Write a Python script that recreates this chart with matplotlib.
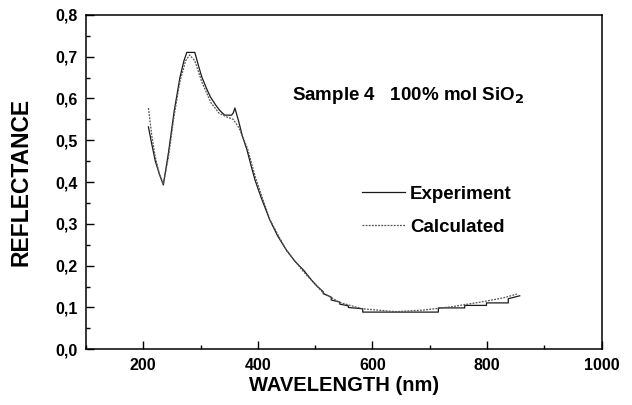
import matplotlib
matplotlib.use("Agg")
import matplotlib.pyplot as plt
from matplotlib.ticker import MultipleLocator

plt.rcParams['font.family'] = ['Liberation Sans', 'DejaVu Sans']

# Experiment (solid, digitised with steps in the tail)
exp_nm = [209, 215, 221, 228, 235, 244, 254, 264, 271, 276, 290, 296, 302, 310, 317,
          326, 333, 342, 354, 357, 360, 363, 366, 373, 381, 388, 395, 406, 421, 435,
          450, 465, 480, 494, 504, 514, 514, 528, 528, 543, 543, 558, 558, 583, 583,
          715, 715, 761, 761, 799, 799, 837, 837, 857]
exp_r = [0.532, 0.49, 0.45, 0.42, 0.393, 0.47, 0.57, 0.65, 0.69, 0.71, 0.71, 0.68, 0.652,
         0.625, 0.604, 0.585, 0.572, 0.56, 0.56, 0.565, 0.577, 0.562, 0.548, 0.51, 0.477,
         0.44, 0.405, 0.362, 0.309, 0.27, 0.237, 0.21, 0.189, 0.165, 0.15, 0.138, 0.133,
         0.125, 0.118, 0.113, 0.108, 0.104, 0.100, 0.097, 0.089, 0.089, 0.099, 0.099,
         0.105, 0.105, 0.111, 0.111, 0.121, 0.128]

# Calculated (dotted)
calc_nm = [209, 215, 221, 228, 235, 244, 254, 264, 274, 281, 290, 302, 318, 332, 345,
           357, 367, 382, 396, 421, 450, 480, 514, 543, 582, 641, 690, 739, 789, 828, 852]
calc_r = [0.577, 0.51, 0.46, 0.42, 0.395, 0.46, 0.56, 0.64, 0.69, 0.704, 0.69, 0.64,
          0.59, 0.565, 0.556, 0.55, 0.53, 0.48, 0.41, 0.31, 0.236, 0.185, 0.135, 0.112,
          0.097, 0.09, 0.094, 0.102, 0.113, 0.123, 0.132]

x_ticks = [200, 400, 600, 800, 1000]
y_ticks = [0.0, 0.1, 0.2, 0.3, 0.4, 0.5, 0.6, 0.7, 0.8]
y_labels = ['0,0', '0,1', '0,2', '0,3', '0,4', '0,5', '0,6', '0,7', '0,8']

fig = plt.figure(figsize=(6.32, 4.05), dpi=100)
ax = fig.add_axes([0.136, 0.1375, 0.816, 0.826])

ax.plot(exp_nm, exp_r, color='#1a1a1a', lw=0.9, label='Experiment')
ax.plot(calc_nm, calc_r, color='#555555', lw=0.9, ls=(0, (1.5, 1)), label='Calculated')

ax.set_xlim(100, 1000)
ax.set_ylim(0, 0.8)
ax.set_xticks(x_ticks)
ax.set_yticks(y_ticks)
ax.set_yticklabels(y_labels)
ax.xaxis.set_minor_locator(MultipleLocator(100))
ax.yaxis.set_minor_locator(MultipleLocator(0.05))
ax.tick_params(which='both', direction='in', top=False, right=False, width=1)
ax.tick_params(which='major', length=6, labelsize=11.5)
ax.tick_params(which='minor', length=3)
ax.tick_params(axis='y', pad=6)
ax.tick_params(axis='x', pad=6)
for lbl in ax.get_xticklabels() + ax.get_yticklabels():
    lbl.set_fontweight('bold')
for s in ax.spines.values():
    s.set_linewidth(1.1)

ax.set_xlabel('WAVELENGTH (nm)', fontsize=14.5, fontweight='bold', va='center')
ax.set_ylabel('REFLECTANCE', fontsize=16.5, fontweight='bold', va='center')
ax.xaxis.set_label_coords(0.5, -0.107)
ax.yaxis.set_label_coords(-0.126, 0.5)

ax.text(0.399, 0.76, 'Sample 4   100% mol SiO$_\\mathbf{2}$', fontsize=13.5,
        fontweight='bold', va='center', transform=ax.transAxes)

leg = ax.legend(loc='upper left', bbox_to_anchor=(0.535, 0.49), frameon=False,
                prop={'weight': 'bold', 'size': 13.5}, handlelength=2.3,
                handletextpad=0.27, labelspacing=0.85, borderpad=0,
                borderaxespad=0)

fig.savefig('out.png', dpi=100)
